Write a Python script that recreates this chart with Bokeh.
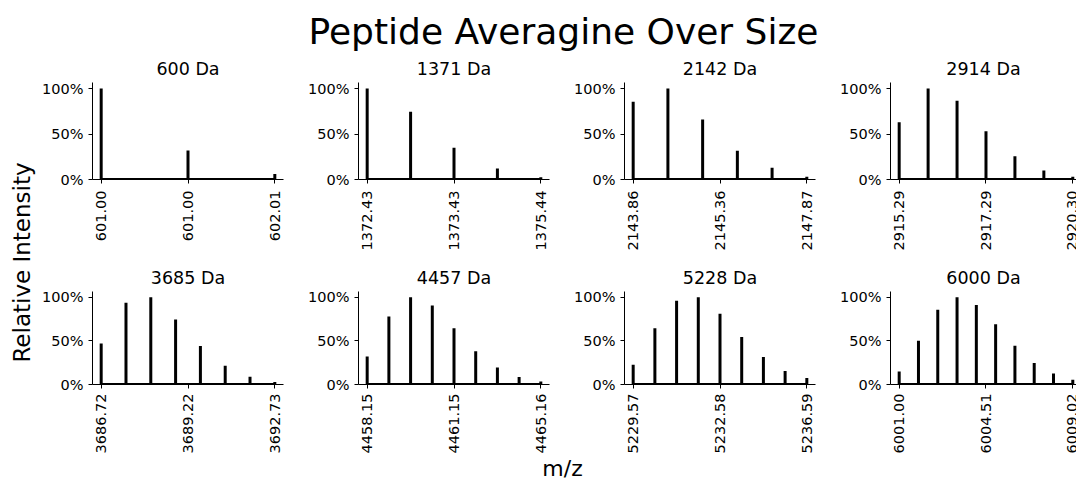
import math
from bokeh.plotting import figure
from bokeh.models import ColumnDataSource, Range1d, FixedTicker, NumeralTickFormatter, Label
from bokeh.layouts import row, column
from bokeh.embed import file_html
from bokeh.resources import INLINE

# ---------------- data ----------------
suptitle = "Peptide Averagine Over Size"
x_label = "m/z"
y_label = "Relative Intensity"

panel_titles = ["600 Da", "1371 Da", "2142 Da", "2914 Da",
                "3685 Da", "4457 Da", "5228 Da", "6000 Da"]

int_600 = [1.00, 0.32, 0.06]
int_1371 = [1.00, 0.745, 0.35, 0.12, 0.025]
int_2142 = [0.855, 1.00, 0.66, 0.315, 0.13, 0.03]
int_2914 = [0.63, 1.00, 0.865, 0.53, 0.255, 0.10, 0.03]
int_3685 = [0.47, 0.935, 1.00, 0.745, 0.44, 0.215, 0.09, 0.03]
int_4457 = [0.32, 0.78, 1.00, 0.905, 0.645, 0.38, 0.195, 0.085, 0.035]
int_5228 = [0.225, 0.645, 0.96, 1.00, 0.81, 0.545, 0.315, 0.155, 0.075]
int_6000 = [0.15, 0.50, 0.855, 1.00, 0.91, 0.69, 0.445, 0.245, 0.125, 0.055]

ticks_600 = ["601.00", "601.00", "602.01"]
ticks_1371 = ["1372.43", "1373.43", "1375.44"]
ticks_2142 = ["2143.86", "2145.36", "2147.87"]
ticks_2914 = ["2915.29", "2917.29", "2920.30"]
ticks_3685 = ["3686.72", "3689.22", "3692.73"]
ticks_4457 = ["4458.15", "4461.15", "4465.16"]
ticks_5228 = ["5229.57", "5232.58", "5236.59"]
ticks_6000 = ["6001.00", "6004.51", "6009.02"]

intensities = [int_600, int_1371, int_2142, int_2914,
               int_3685, int_4457, int_5228, int_6000]
tick_labels = [ticks_600, ticks_1371, ticks_2142, ticks_2914,
               ticks_3685, ticks_4457, ticks_5228, ticks_6000]

# ---------------- geometry ----------------
FONT = "DejaVu Sans"
TOTAL_W, TOTAL_H = 1076, 480
YLAB_W = 39
TITLE_H = 52
FRAME_W = 192
LEFT_B = 52
RIGHT_B = 22
LAST_FRAME_W = TOTAL_W - YLAB_W - 3 * (LEFT_B + FRAME_W + RIGHT_B) - LEFT_B  # 187
ROWS = [dict(top=30, frame=97, bottom=83, ytop=97 / 91.0, standoff=7),
        dict(top=27, frame=98, bottom=69, ytop=98 / 92.0, standoff=5)]
MZ_H = TOTAL_H - TITLE_H - sum(g["top"] + g["frame"] + g["bottom"] for g in ROWS)  # 24
MID = 0.346  # offset of the em-box middle above the baseline (in em)


def make_panel(idx):
    r, c = divmod(idx, 4)
    g = ROWS[r]
    inten = intensities[idx]
    n = len(inten)
    xs = list(range(n))
    span = n - 1
    start = -0.05 * span
    full = 1.1 * span
    last = (c == 3)
    fw = LAST_FRAME_W if last else FRAME_W
    end = start + full * fw / FRAME_W
    width = LEFT_B + fw + (0 if last else RIGHT_B)
    height = g["top"] + g["frame"] + g["bottom"]
    p = figure(width=width, height=height,
               x_range=Range1d(start, end), y_range=Range1d(0, g["ytop"]),
               output_backend="svg", toolbar_location=None,
               min_border_left=LEFT_B, min_border_right=(0 if last else RIGHT_B),
               min_border_top=g["top"], min_border_bottom=g["bottom"],
               title=panel_titles[idx])
    p.title.align = "center"
    p.title.text_font = FONT
    p.title.text_font_size = "17.5px"
    p.title.text_font_style = "normal"
    p.title.text_color = "black"
    p.title.standoff = 7
    p.outline_line_color = None
    p.background_fill_color = "white"
    p.border_fill_color = "white"
    p.xgrid.visible = False
    p.ygrid.visible = False

    src = ColumnDataSource(dict(x=xs, y0=[0] * n, y=inten))
    p.segment(x0="x", y0="y0", x1="x", y1="y", source=src,
              line_width=3, line_color="black", line_cap="butt")
    base = ColumnDataSource(dict(x=[xs[0], xs[-1]], y=[0, 0]))
    p.line(x="x", y="y", source=base, line_width=3, line_color="black")

    tpos = [0.0, span / 2.0, float(span)]
    p.xaxis.ticker = FixedTicker(ticks=tpos, minor_ticks=[])
    p.xaxis.major_label_overrides = {t: lab for t, lab in zip(tpos, tick_labels[idx])}
    p.xaxis.major_label_orientation = math.pi / 2
    p.yaxis.ticker = FixedTicker(ticks=[0, 0.5, 1.0], minor_ticks=[])
    p.yaxis.formatter = NumeralTickFormatter(format="0%")
    for ax in (p.xaxis, p.yaxis):
        ax.axis_line_color = "black"
        ax.axis_line_width = 1
        ax.major_tick_line_color = "black"
        ax.major_tick_in = 0
        ax.major_tick_out = 4
        ax.minor_tick_line_color = None
        ax.major_label_text_font = FONT
        ax.major_label_text_font_size = "14.5px"
        ax.major_label_text_color = "black"
    p.xaxis.major_label_standoff = g["standoff"]
    p.yaxis.major_label_standoff = 5
    return p


def text_fig(w, h):
    f = figure(width=w, height=h, x_range=Range1d(0, w), y_range=Range1d(0, h),
               output_backend="svg", toolbar_location=None,
               x_axis_type=None, y_axis_type=None, min_border=0)
    f.outline_line_color = None
    f.grid.visible = False
    f.background_fill_color = "white"
    f.border_fill_color = "white"
    return f


# suptitle: baseline ~43.5 px from the top, centred at x = 563
T_SIZE = 36
title_fig = text_fig(TOTAL_W, TITLE_H)
title_fig.add_layout(Label(x=563, y=TITLE_H - (43.5 - MID * T_SIZE), text=suptitle,
                           text_align="center", text_baseline="middle", text_font=FONT,
                           text_font_size=f"{T_SIZE}px", text_color="black"))

# y label: baseline at x = 29, centred at y = 262
L_SIZE = 23
grid_h = TOTAL_H - TITLE_H
ylab_fig = text_fig(YLAB_W, grid_h)
ylab_fig.add_layout(Label(x=29 - MID * L_SIZE, y=grid_h - (262 - TITLE_H), text=y_label,
                          angle=math.pi / 2, text_align="center", text_baseline="middle",
                          text_font=FONT, text_font_size=f"{L_SIZE}px", text_color="black"))

# x label: centred at x = 562 in the bottom strip
X_SIZE = 22
mz_w = TOTAL_W - YLAB_W
mz_fig = text_fig(mz_w, MZ_H)
mz_fig.add_layout(Label(x=562 - YLAB_W, y=MZ_H / 2.0, text=x_label,
                        text_align="center", text_baseline="middle", text_font=FONT,
                        text_font_size=f"{X_SIZE}px", text_color="black"))

panels = [make_panel(i) for i in range(8)]
layout = column(title_fig,
                row(ylab_fig,
                    column(row(*panels[:4]), row(*panels[4:]), mz_fig)))

open("out.html", "w").write(file_html(layout, INLINE))
